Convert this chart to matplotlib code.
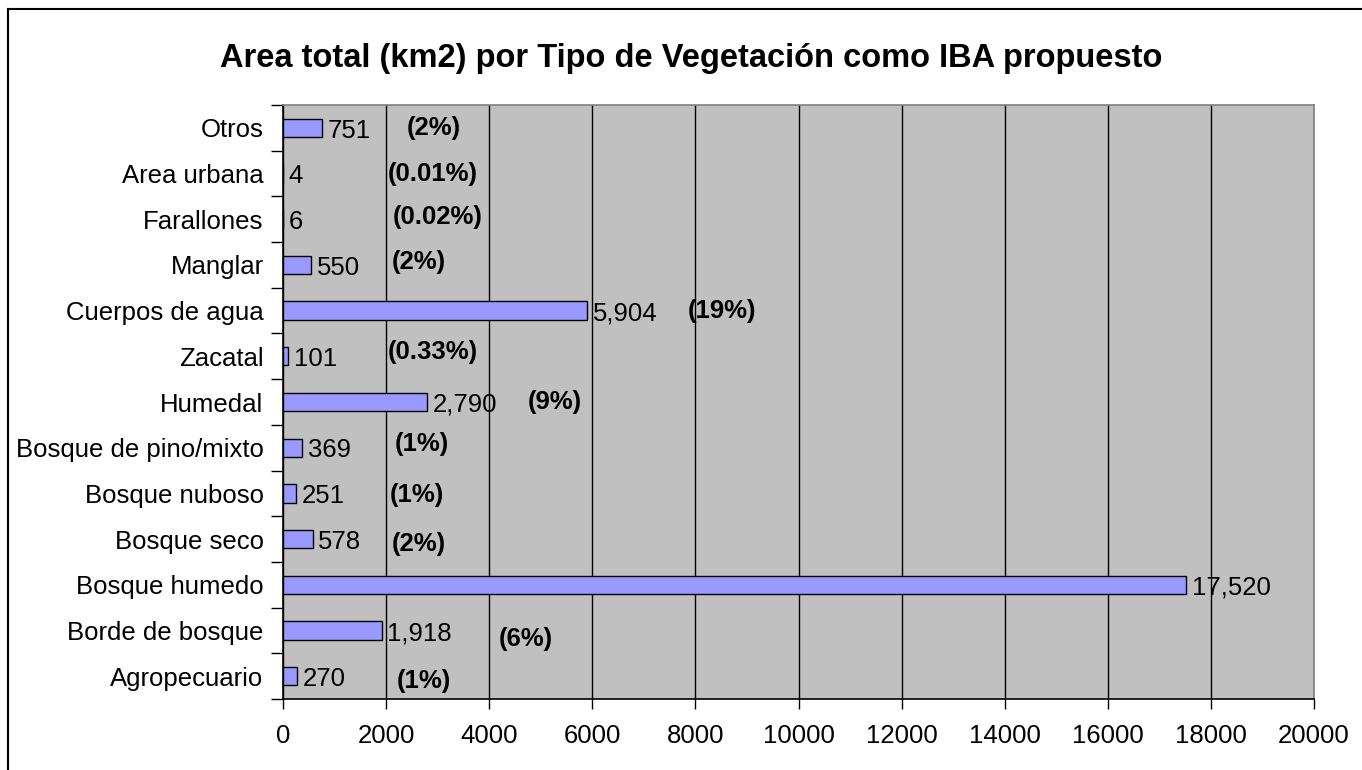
import matplotlib
matplotlib.use("Agg")
import matplotlib.pyplot as plt
from matplotlib.lines import Line2D

# ---- data ----
categories = ["Agropecuario", "Borde de bosque", "Bosque humedo", "Bosque seco",
              "Bosque nuboso", "Bosque de pino/mixto", "Humedal", "Zacatal",
              "Cuerpos de agua", "Manglar", "Farallones", "Area urbana", "Otros"]
areas = [270, 1918, 17520, 578, 251, 369, 2790, 101, 5904, 550, 6, 4, 751]
pct_labels = ["(1%)", "(6%)", "", "(2%)", "(1%)", "(1%)", "(9%)", "(0.33%)",
              "(19%)", "(2%)", "(0.02%)", "(0.01%)", "(2%)"]
xticks = [0, 2000, 4000, 6000, 8000, 10000, 12000, 14000, 16000, 18000, 20000]
title = "Area total (km2) por Tipo de Vegetación como IBA propuesto"

# label placement (layout, in data units) for the manually placed percentages
pct_x = [2211, 4190, 0, 2114, 2076, 2173, 4753, 2037, 7856, 2114, 2134, 2037, 2405]
pct_dy = [-0.1, -0.18, 0, -0.1, -0.04, 0.07, 0, 0.1, 0, 0.07, 0.05, 0, 0]

plt.rcParams['font.family'] = ['Liberation Sans', 'DejaVu Sans']
FS = 18.5

fig = plt.figure(figsize=(13.62, 7.70), dpi=100)
fig.patch.set_facecolor("white")
ax = fig.add_axes([283/1362, 1-699/770, (1314-283)/1362, (699-105)/770])
ax.set_facecolor("#C0C0C0")

y = list(range(len(categories)))
ax.barh(y, areas, height=0.4, color="#9999FF", edgecolor="black", linewidth=1.0, zorder=3)

ax.set_xlim(0, 20000)
ax.set_ylim(-0.5, len(categories) - 0.5)
ax.set_xticks(xticks)
ax.set_xticklabels([str(t) for t in xticks], fontsize=FS)
ax.xaxis.grid(True, color="black", linewidth=1.0, zorder=1)
ax.set_axisbelow(True)

ax.set_yticks(y)
ax.set_yticklabels(categories, fontsize=FS)
ax.tick_params(axis='y', length=0, pad=14)
# minor ticks at category boundaries
ax.set_yticks([i - 0.5 for i in range(len(categories) + 1)], minor=True)
ax.tick_params(axis='y', which='minor', length=8.5, direction='out', width=1)
ax.tick_params(axis='x', length=7, direction='out', width=1, pad=11)

for side in ["top", "right"]:
    ax.spines[side].set_color("#808080")
    ax.spines[side].set_linewidth(1.2)
for side in ["left", "bottom"]:
    ax.spines[side].set_color("black")
    ax.spines[side].set_linewidth(1.2)

for yi, v in zip(y, areas):
    ax.annotate(f"{v:,}", xy=(v, yi), xytext=(4, -2), textcoords="offset points",
                ha="left", va="center", fontsize=FS, zorder=4)

for yi, lab, px, dy in zip(y, pct_labels, pct_x, pct_dy):
    if lab:
        ax.text(px, yi + dy, lab, ha="left", va="center", fontsize=FS,
                fontweight="bold", zorder=4)

fig.text(691.5 / 1362, 1 - 58/770, title, ha="center", va="center",
         fontsize=23.5, fontweight="bold")

# partial chart-area frame
fig.add_artist(Line2D([8/1362, 8/1362], [0, 1-9/770], color="black", linewidth=1.5,
                      transform=fig.transFigure))
fig.add_artist(Line2D([8/1362, 1], [1-9/770, 1-9/770], color="black", linewidth=1.5,
                      transform=fig.transFigure))

fig.savefig("out.png", dpi=100)
